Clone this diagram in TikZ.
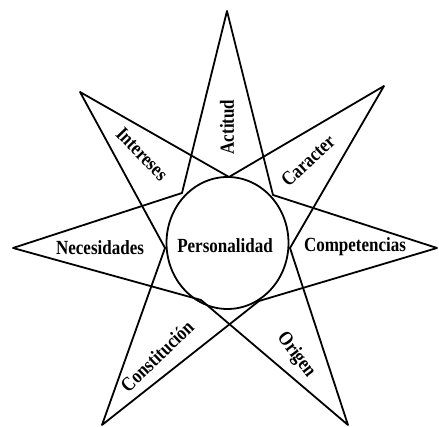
\documentclass[tikz,border=0pt]{standalone}
\usepackage{fontspec}
\usepackage{graphicx}
\setmainfont{Liberation Serif}
\newcommand{\tallt}[1]{\scalebox{1}[1.18]{#1}}
\begin{document}
\begin{tikzpicture}[x=1pt,y=1pt,
  spike/.style={line width=1.8pt, line join=round, line cap=round},
  lbl/.style={font=\fontsize{17}{20}\selectfont\bfseries, inner sep=0pt}]
\useasboundingbox (0,0) rectangle (439,427);
% outer vertices
\coordinate (T)  at (227,416);
\coordinate (UR) at (384,341);
\coordinate (R)  at (437,179);
\coordinate (LR) at (348,2);
\coordinate (LL) at (102,2);
\coordinate (L)  at (13,179);
\coordinate (UL) at (80,335);
% touch points on the circle
\coordinate (A) at (229,250);
\coordinate (B) at (273,232);
\coordinate (C) at (290,179);
\coordinate (D) at (259,126);
\coordinate (E) at (201,127);
\coordinate (F) at (165,179);
\coordinate (G) at (182,234);
\coordinate (O) at (227.5,184);
% spikes
\draw[spike] (G) -- (T) -- (B);
\draw[spike] (A) -- (UR) -- (C);
\draw[spike] (B) -- (R) -- (D);
\draw[spike] (C) -- (LR) -- (E);
\draw[spike] (D) -- (LL) -- (F);
\draw[spike] (E) -- (L) -- (G);
\draw[spike] (F) -- (UL) -- (A);
% circle
\draw[spike] (O) ellipse [x radius=61, y radius=66];
% labels
\node[lbl] (pers) at (225,181) {\tallt{Personalidad}};
\node[lbl, rotate=90] (act) at (227,300) {\tallt{Actitud}};
\node[lbl, rotate=-46] (int) at (142,273) {\tallt{Intereses}};
\node[lbl, rotate=43] (car) at (308,266) {\tallt{Caracter}};
\node[lbl] (nec) at (100,179) {\tallt{Necesidades}};
\node[lbl] (comp) at (355,180) {\tallt{Competencias}};
\node[lbl, rotate=44] (cons) at (157,71) {\tallt{Constitución}};
\node[lbl, rotate=-53] (ori) at (296,72) {\tallt{Origen}};
\end{tikzpicture}
\end{document}
